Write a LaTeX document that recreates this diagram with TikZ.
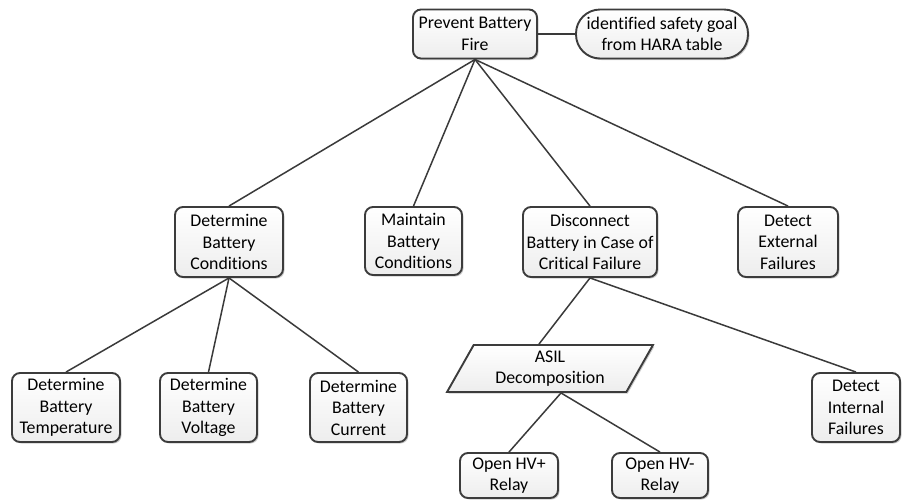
\documentclass[tikz,border=0pt]{standalone}
\usepackage{fontspec}
\setmainfont{Carlito}[Ligatures=NoCommon]
\usetikzlibrary{shapes.geometric,shadows}
\definecolor{edgec}{HTML}{3C3C3C}
\definecolor{linkc}{HTML}{3A3A3A}
\begin{document}
\begin{tikzpicture}[x=1pt,y=-1pt,
  every node/.style={font=\fontsize{17.8}{21.5}\selectfont, align=center, inner sep=0pt},
  goalbox/.style={draw=edgec, line width=1.9pt, rounded corners=8pt,
    top color=white, bottom color=gray!14,
    drop shadow={shadow xshift=1.5pt, shadow yshift=-1.5pt, opacity=0.2, fill=black}},
  note/.style={goalbox, rounded corners=24pt},
  decomp/.style={draw=edgec, line width=1.9pt, trapezium, trapezium left angle=62,
    trapezium right angle=118, trapezium stretches=true,
    top color=white, bottom color=gray!14,
    drop shadow={shadow xshift=1.5pt, shadow yshift=-1.5pt, opacity=0.2, fill=black}},
  link/.style={draw=linkc, line width=1.5pt}]
\useasboundingbox (0,0) rectangle (903,499);

% top-level safety goal and its note
\node[goalbox, minimum width=124pt, minimum height=49pt] (prev) at (475,34) {Prevent Battery\\Fire};
\node[note, minimum width=172pt, minimum height=49pt] (goal) at (662,34) {identified safety goal\\from HARA table};

% second level
\node[goalbox, minimum width=108pt, minimum height=70pt] (dbc) at (229,242) {Determine\\Battery\\Conditions};
\node[goalbox, minimum width=97pt, minimum height=68pt] (mbc) at (413.5,241) {Maintain\\Battery\\Conditions};
\node[goalbox, minimum width=134pt, minimum height=70pt] (dis) at (590,242) {Disconnect\\Battery in Case of\\Critical Failure};
\node[goalbox, minimum width=100pt, minimum height=70pt] (ext) at (788,242) {Detect\\External\\Failures};

% third level
\node[goalbox, minimum width=108pt, minimum height=69pt] (temp) at (66,407.5) {Determine\\Battery\\Temperature};
\node[goalbox, minimum width=97pt, minimum height=69pt] (volt) at (208.5,407.5) {Determine\\Battery\\Voltage};
\node[goalbox, minimum width=97pt, minimum height=69pt] (curr) at (358.5,407.5) {Determine\\Battery\\Current};
\node[decomp, minimum width=206pt, minimum height=47pt] (asil) at (550,368.5) {ASIL\\Decomposition};
\node[goalbox, minimum width=88pt, minimum height=69pt] (int) at (856,407.5) {Detect\\Internal\\Failures};

% relays
\node[goalbox, minimum width=98pt, minimum height=45pt] (hvp) at (509,475.5) {Open HV+\\Relay};
\node[goalbox, minimum width=96pt, minimum height=45pt] (hvm) at (660,475.5) {Open HV-\\Relay};

% connectors
\path[link] (prev.east) -- (goal.west);
\path[link] (prev.south) -- (dbc.north);
\path[link] (prev.south) -- (mbc.north);
\path[link] (prev.south) -- (dis.north);
\path[link] (prev.south) -- (ext.north);
\path[link] (dbc.south) -- (temp.north);
\path[link] (dbc.south) -- (volt.north);
\path[link] (dbc.south) -- (curr.north);
\path[link] (dis.south) -- ([xshift=-11pt]asil.north);
\path[link] (dis.south) -- (int.north);
\path[link] ([xshift=11pt]asil.south) -- (hvp.north);
\path[link] ([xshift=11pt]asil.south) -- (hvm.north);
\end{tikzpicture}
\end{document}
